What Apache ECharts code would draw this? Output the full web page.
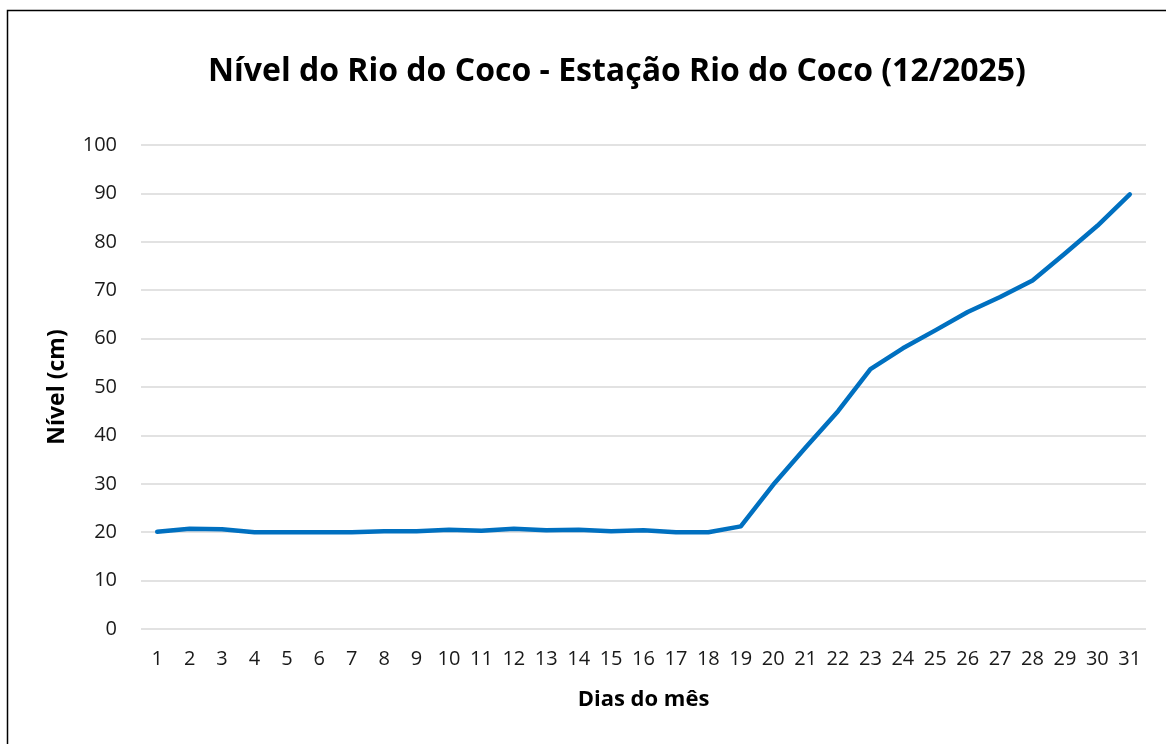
<!DOCTYPE html>
<html lang="pt">
  <head>
    <meta charset="UTF-8" />
    <title>Nível do Rio do Coco</title>
    <style>
      * {
        padding: 0;
        margin: 0;
      }
      body {
        background: #fff;
      }
      #chart {
        width: 1166px;
        height: 744px;
      }
    </style>
    <script src="https://cdn.jsdelivr.net/npm/echarts@6/dist/echarts.min.js"></script>
  </head>
  <body>
    <div id="chart"></div>
    <script type="text/javascript">
      // dados
      const dias = [
        '1', '2', '3', '4', '5', '6', '7', '8', '9', '10', '11', '12', '13', '14', '15', '16',
        '17', '18', '19', '20', '21', '22', '23', '24', '25', '26', '27', '28', '29', '30', '31',
      ]
      const nivel = [
        20.1, 20.7, 20.6, 20.0, 20.0, 20.0, 20.0, 20.2, 20.2, 20.5, 20.3, 20.7, 20.4, 20.5, 20.2, 20.4,
        20.0, 20.0, 21.2, 29.8, 37.5, 45.0, 53.7, 58.0, 61.7, 65.5, 68.6, 72.0, 77.6, 83.3, 89.8,
      ]
      const yTicks = { min: 0, max: 100, interval: 10 }

      const fonte = '"Open Sans", "Liberation Sans", sans-serif'
      const chart = echarts.init(document.getElementById('chart'))

      const option = {
        animation: false,
        backgroundColor: '#fff',
        textStyle: { fontFamily: fonte },
        title: {
          text: 'Nível do Rio do Coco - Estação Rio do Coco (12/2025)',
          left: 203,
          top: 51,
          textStyle: {
            fontFamily: fonte,
            fontSize: 32,
            fontWeight: 'bold',
            color: '#000',
          },
        },
        graphic: [
          {
            type: 'rect',
            shape: { x: 7.5, y: 10.5, width: 1200, height: 800 },
            style: { fill: 'none', stroke: '#000', lineWidth: 1.5 },
            silent: true,
          },
        ],
        grid: {
          left: 141,
          right: 20,
          top: 145,
          bottom: 115,
        },
        xAxis: {
          type: 'category',
          data: dias,
          boundaryGap: true,
          name: 'Dias do mês',
          nameLocation: 'middle',
          nameGap: 60,
          nameTextStyle: {
            fontFamily: fonte,
            fontSize: 22,
            fontWeight: 'bold',
            color: '#000',
          },
          axisLine: { show: false },
          axisTick: { show: false },
          axisLabel: {
            interval: 0,
            margin: 20,
            fontSize: 20,
            color: '#1a1a1a',
          },
        },
        yAxis: {
          type: 'value',
          min: yTicks.min,
          max: yTicks.max,
          interval: yTicks.interval,
          name: 'Nível (cm)',
          nameLocation: 'middle',
          nameGap: 72,
          nameTextStyle: {
            fontFamily: fonte,
            fontSize: 23,
            fontWeight: 'bold',
            color: '#000',
          },
          axisLine: { show: false },
          axisTick: { show: false },
          axisLabel: {
            margin: 24,
            fontSize: 20,
            color: '#1a1a1a',
          },
          splitLine: {
            lineStyle: { color: '#d9d9d9', width: 1.5 },
          },
        },
        series: [
          {
            name: 'Nível',
            type: 'line',
            data: nivel,
            symbol: 'none',
            lineStyle: { color: '#0070c0', width: 4.5, cap: 'round', join: 'round' },
            itemStyle: { color: '#0070c0' },
          },
        ],
      }

      chart.setOption(option)
    </script>
  </body>
</html>
